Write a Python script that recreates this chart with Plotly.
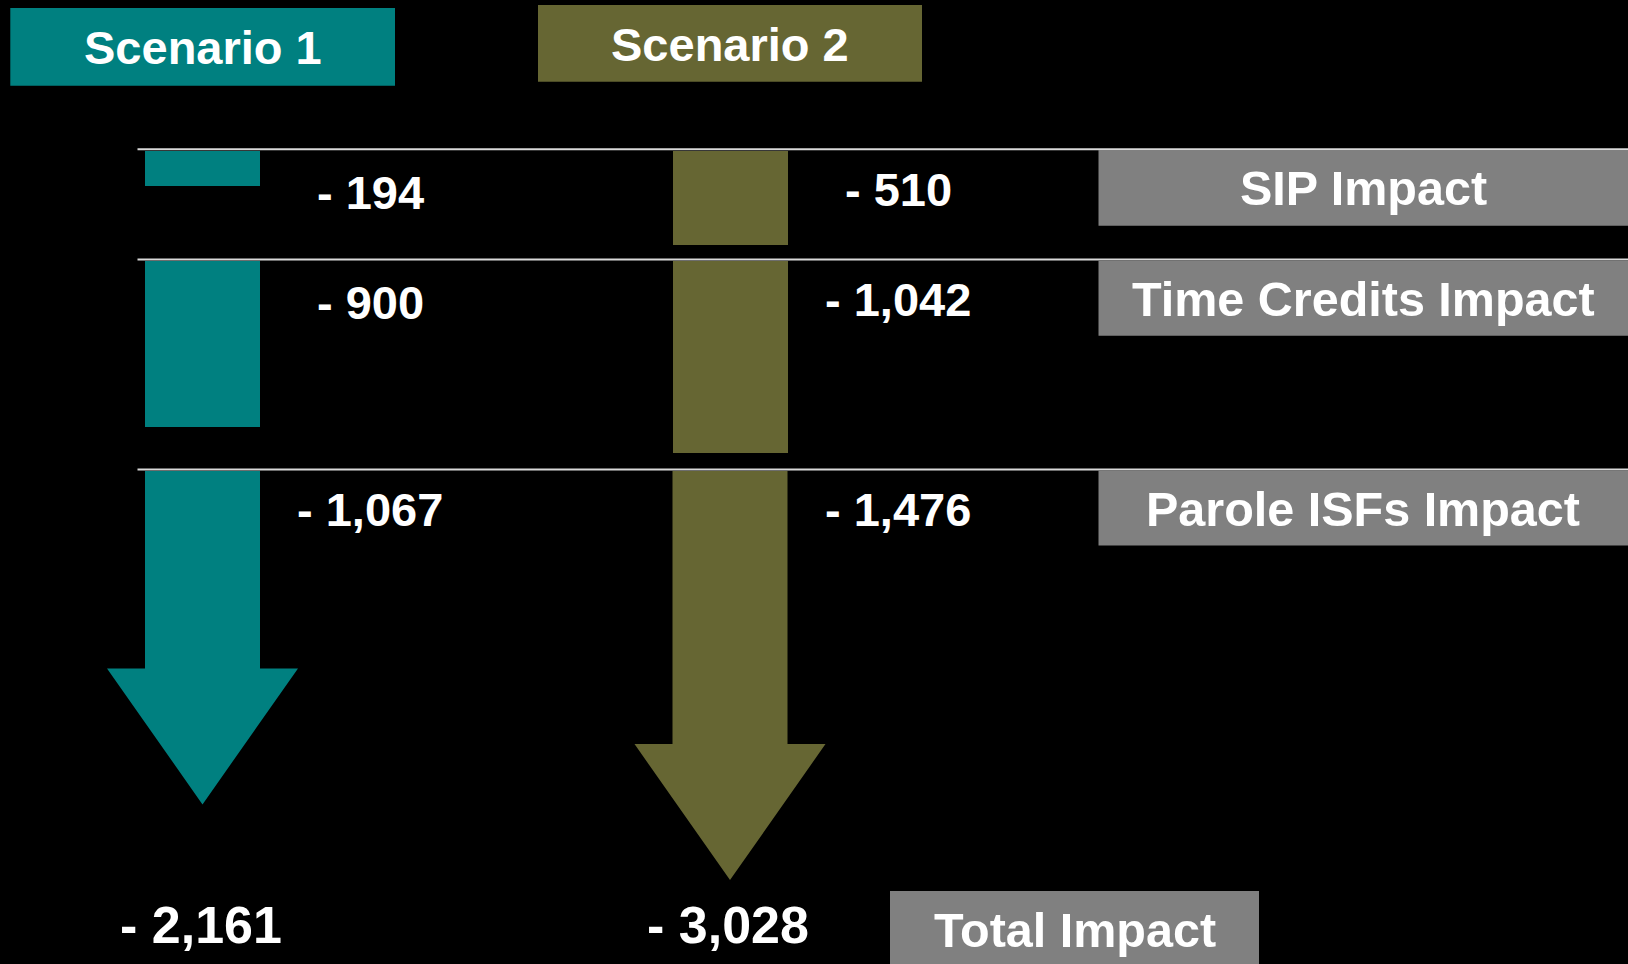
import plotly.graph_objects as go

# ---------------- data ----------------
scenarios = ["Scenario 1", "Scenario 2"]
impacts = ["SIP Impact", "Time Credits Impact", "Parole ISFs Impact"]
scenario1_values = [194, 900, 1067]
scenario2_values = [510, 1042, 1476]
total_values = [2161, 3028]
total_label = "Total Impact"

# ---------------- style / layout ----------------
W, H = 1628, 964
PX_PER_UNIT = 0.185            # vertical scale: pixels per person
TEAL = "#008080"
OLIVE = "#666633"
GREY = "#808080"
FONT = "Liberation Sans, Arial, sans-serif"
FS = 47
FS_BOX = 48.5
FS_TOTAL = 52

colors = [TEAL, OLIVE]
bar_centers = [202.5, 730]
bar_width = 115
label_centers = [370, 898]
row_lines_px = [149.3, 259.5, 469.5]
row_starts_px = [150.5, 260.5, 471]
label_y_px = [[192.5, 302, 509], [189, 299, 509]]
head_len_px = 136
head_half_px = 95.5

def u(px):
    return px / PX_PER_UNIT

fig = go.Figure()
series = [scenario1_values, scenario2_values]

for si, vals in enumerate(series):
    xc = bar_centers[si]
    # first two impacts as plain bars
    fig.add_trace(go.Bar(
        x=[xc, xc], y=vals[:2], base=[u(p) for p in row_starts_px[:2]],
        width=bar_width, marker=dict(color=colors[si], line=dict(width=0)),
        hoverinfo="skip", showlegend=False, yaxis="y"))
    # last impact as arrow (body length = value, plus head)
    y0 = u(row_starts_px[2])
    y1 = y0 + vals[2]
    y2 = y1 + u(head_len_px)
    hw = bar_width / 2
    xs = [xc - hw, xc + hw, xc + hw, xc + head_half_px, xc, xc - head_half_px, xc - hw, xc - hw]
    ys = [y0, y0, y1, y1, y2, y1, y1, y0]
    fig.add_trace(go.Scatter(
        x=xs, y=ys, mode="lines", fill="toself", fillcolor=colors[si],
        line=dict(width=0, color=colors[si]), hoverinfo="skip",
        showlegend=False, yaxis="y"))

shapes = []
annotations = []

def box(x0, x1, y0, y1, color):
    shapes.append(dict(type="rect", xref="x", yref="y2", x0=x0, x1=x1, y0=y0, y1=y1,
                       fillcolor=color, line=dict(width=0), layer="above"))

def text(x, y, s, size=FS):
    annotations.append(dict(x=x, y=y, xref="x", yref="y2", text="<b>" + s + "</b>",
                            showarrow=False, xanchor="center", yanchor="middle",
                            font=dict(family=FONT, size=size, color="white")))

# header boxes
header_boxes = [(10.3, 395, 8, 85.7, 47.5), (538, 922, 5, 81.7, 44.7)]
for si, (x0, x1, y0, y1, ty) in enumerate(header_boxes):
    box(x0, x1, y0, y1, colors[si])
    text((x0 + x1) / 2, ty, scenarios[si])

# horizontal row lines
for ly in row_lines_px:
    shapes.append(dict(type="line", xref="x", yref="y2", x0=137.5, x1=W, y0=ly, y1=ly,
                       line=dict(color="#d9d9d9", width=2), layer="below"))

# impact label boxes
impact_boxes = [(150, 225.7, 188.3), (260.7, 335.7, 298.7), (470.5, 545.5, 509)]
for i, (y0, y1, ty) in enumerate(impact_boxes):
    box(1098.5, W + 2, y0, y1, GREY)
    text((1098.5 + W) / 2, ty, impacts[i], FS_BOX)

# value labels
for si, vals in enumerate(series):
    for i, v in enumerate(vals):
        text(label_centers[si], label_y_px[si][i], "- {:,}".format(v))
    text(bar_centers[si] - 2, 925, "- {:,}".format(total_values[si]), FS_TOTAL)

# total impact box
box(890, 1259, 891, H + 2, GREY)
text(1074.5, 930, total_label, FS_BOX)

fig.update_layout(
    width=W, height=H,
    margin=dict(l=0, r=0, t=0, b=0),
    paper_bgcolor="black", plot_bgcolor="black",
    barmode="overlay", bargap=0,
    xaxis=dict(range=[0, W], visible=False, fixedrange=True),
    yaxis=dict(range=[u(H), 0], visible=False, fixedrange=True),
    yaxis2=dict(range=[H, 0], visible=False, overlaying="y", fixedrange=True),
    shapes=shapes, annotations=annotations,
    showlegend=False,
)

fig.write_html(
    "out.html",
    config={"displayModeBar": False},
    post_script="document.body.style.margin='0';document.body.style.background='black';"
                "document.documentElement.style.background='black';document.body.style.overflow='hidden';",
)
